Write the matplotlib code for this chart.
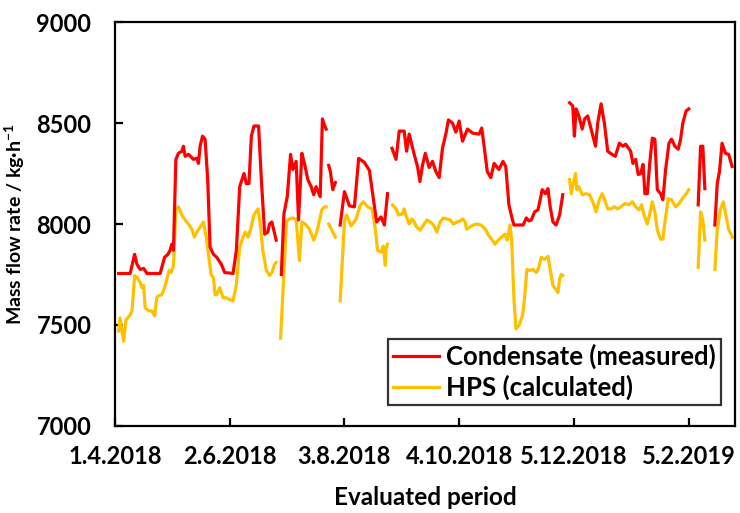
import numpy as np
import matplotlib
matplotlib.use("Agg")
import matplotlib.pyplot as plt
import matplotlib.dates as mdates
from datetime import datetime

# ---------------- data (days since 1.4.2018, kg/h); NaN marks a gap ----------------
start_date = "1.4.2018"
end_days = 335
tick_labels = ["1.4.2018", "2.6.2018", "3.8.2018", "4.10.2018", "5.12.2018", "5.2.2019"]
y_ticks = [7000, 7500, 8000, 8500, 9000]

cond_days = [2, 8.2, 10.6, 11.9, 13.6, 15.5, 17.3, 24.4, 26.8, 28.6, 29.8, 30.7, 31.6, 32.9, 34.3,
             36.1, 37.0, 37.9, 39.7, 42.4, 44.2, 45.1, 46.0, 47.3, 48.7, 50.1, 51.4, 53.2, 55.0,
             57.5, 59.3, 63.8, 65.6, 67.4, 69.7, 71.0, 72.4, 73.7, 75.1, 77.6, 79.1, 80.9, 82.6,
             83.5, 84.8, 85.8, 87.1,
             88.5,
             89.9, 91.3, 93.1, 94.9, 96.1, 97.9, 99.2, 101.0, 102.4, 104.2, 106.0, 107.4, 108.7,
             110.9, 112.1, 113.4, 114.1,
             114.8,
             115.5, 116.4, 117.7, 119.1,
             120.4,
             121.7, 124.0, 126.7, 129.4, 131.7, 134.8, 137.5, 139.2, 141.4, 143.8, 145.6, 147.3,
             148.5,
             149.7, 151.9, 153.6, 156.3, 157.6, 159.0, 161.7, 163.5, 164.8, 166.2, 167.7, 169.8,
             171.6, 173.4, 175.2, 177.0, 178.8, 180.2, 182.4, 184.2, 186.0, 187.8, 190.5, 193.2,
             196.8, 198.2, 199.5, 201.2, 203.1, 204.9, 207.5, 209.7, 211.2, 212.9, 214.7, 215.6,
             220.6, 222.3, 223.7, 225.0, 226.8, 228.6, 229.8, 230.9, 232.7, 234.0, 235.2, 236.7,
             238.4, 240.3, 242.0,
             244.0,
             245.7, 247.4, 248.3, 249.2, 250.7, 252.5, 253.8, 255.5, 257.3, 259.7, 260.9, 262.7,
             264.5, 266.3, 268.6, 270.4, 272.6, 274.4, 276.0, 278.7, 279.9, 281.4, 282.8, 284.1,
             285.4, 286.4, 287.7, 289.0, 290.4, 291.8, 293.1, 294.9, 296.1, 297.6, 299.4, 300.8,
             302.6, 304.4, 305.7, 306.9, 308.7, 310.1,
             312.5,
             315.2, 316.5, 317.7, 318.8,
             321.5,
             324.2, 325.5, 326.7, 328.1, 329.9, 331.7, 333.5]
cond_vals = [7755, 7755, 7850, 7800, 7775, 7780, 7755, 7755, 7835, 7850, 7870, 7900, 7870, 8320, 8350,
             8360, 8385, 8335, 8345, 8320, 8325, 8300, 8385, 8435, 8420, 8220, 7885, 7850, 7835,
             7800, 7760, 7755, 7870, 8185, 8250, 8200, 8200, 8435, 8485, 8485, 8220, 7950, 7960,
             8000, 8010, 7970, 7920,
             np.nan,
             7750, 8050, 8135, 8345, 8270, 8310, 8020, 8350, 8300, 8220, 8185, 8145, 8185,
             8135, 8520, 8485, 8470,
             np.nan,
             8290, 8260, 8170, 8205,
             np.nan,
             7995, 8160, 8090, 8085, 8325, 8305, 8265, 8155, 8010, 8035, 7995, 8150,
             np.nan,
             8375, 8320, 8460, 8460, 8360, 8445, 8345, 8285, 8210, 8290, 8350, 8280,
             8310, 8260, 8230, 8375, 8445, 8515, 8500, 8455, 8510, 8410, 8470, 8450,
             8445, 8475, 8385, 8260, 8230, 8300, 8270, 8310, 8285, 8095, 8025, 7995,
             7995, 8030, 8015, 8020, 8060, 8070, 8120, 8170, 8150, 8175, 8085, 8010,
             7995, 8045, 8145,
             np.nan,
             8600, 8585, 8435, 8570, 8535, 8470, 8520, 8535, 8470, 8385, 8500, 8595,
             8500, 8360, 8345, 8335, 8400, 8385, 8395, 8360, 8300, 8320, 8245, 8250,
             8295, 8150, 8150, 8300, 8425, 8420, 8170, 8150, 8120, 8270, 8400, 8420,
             8385, 8370, 8420, 8500, 8560, 8570,
             np.nan,
             8095, 8385, 8385, 8175,
             np.nan,
             7995, 8200, 8260, 8400, 8350, 8345, 8285]

hps_days = [2.0, 2.7, 4.7, 5.9, 8.2, 9.2, 10.6, 11.9, 13.6, 14.6, 15.5, 16.3, 18.2, 19.9, 21.4,
            22.6, 23.6, 25.3, 26.8, 28.0, 29.3, 30.4, 31.6, 32.9, 34.3, 36.1, 37.9, 40.1, 41.5,
            42.9, 44.2, 46.0, 47.8, 49.6, 51.9, 53.2, 54.1, 55.0, 56.6, 58.4, 60.2, 62.0, 63.8,
            65.6, 67.4, 69.2, 70.4, 71.9, 73.3, 75.1, 77.3, 78.7, 79.9, 81.8, 83.6, 84.8, 86.3, 87.1,
            88.3,
            89.5, 92.7, 93.4, 95.6, 97.9, 99.7, 101.0, 102.8, 105.1, 107.4, 108.7, 110.0, 111.8,
            113.2, 114.1,
            114.8,
            115.5, 117.7, 119.1,
            120.4,
            121.7, 124.0, 125.2, 127.6, 130.3, 132.4, 134.2, 136.5, 138.9, 140.7, 141.9, 143.8,
            145.0, 146.1, 146.6, 147.3,
            148.6,
            150.0, 151.9, 153.3, 155.4, 156.3, 157.2, 159.0, 160.5, 161.7, 163.0, 165.0, 166.7,
            168.6, 170.4, 172.1, 173.9, 175.7, 177.5, 179.4, 181.1, 182.9, 184.7, 186.5, 188.0,
            189.2, 190.1, 191.9, 193.7, 195.5, 197.7, 199.1, 200.5, 201.8, 203.6, 205.4, 207.2,
            209.0, 210.8, 212.0, 213.5, 214.4, 215.6, 216.7, 218.5, 220.3, 221.4, 222.6, 224.1,
            225.9, 227.7, 229.1, 230.4, 232.2, 234.0, 235.2, 236.7, 238.4, 239.4, 240.3, 241.1,
            242.0,
            244.0,
            245.7, 246.6, 247.9, 248.9, 249.6, 250.7, 252.5, 254.6, 256.5, 258.2, 260.0, 261.8,
            263.3, 264.5, 266.3, 268.1, 269.9, 271.7, 273.5, 275.3, 276.0, 277.8, 279.6, 281.4,
            283.2, 284.6, 285.9, 287.7, 289.0, 290.4, 291.8, 293.1, 294.9, 296.1, 297.6, 299.0,
            300.8, 303.0, 304.8, 306.6, 308.7, 310.1,
            312.5,
            315.2, 316.5, 317.7, 318.8,
            321.5,
            324.2, 325.5, 327.3, 328.8, 330.0, 331.8, 333.7]
hps_vals = [7470, 7535, 7420, 7525, 7550, 7570, 7745, 7735, 7710, 7685, 7695, 7585, 7570, 7570, 7545,
            7635, 7645, 7650, 7685, 7725, 7770, 7760, 7795, 8070, 8085, 8045, 8020, 7995, 7975,
            7935, 7960, 7985, 8010, 7920, 7750, 7735, 7650, 7650, 7685, 7635, 7635, 7625, 7620,
            7700, 7885, 7935, 7960, 7935, 7975, 8045, 8075, 7985, 7870, 7770, 7745, 7760, 7800, 7810,
            np.nan,
            7435, 8010, 8020, 8030, 8025, 7820, 8010, 8000, 7975, 7920, 7950, 7995, 8070,
            8085, 8085,
            np.nan,
            8000, 7960, 7935,
            np.nan,
            7620, 8010, 8045, 7990, 8025, 8090, 8110, 8085, 8075, 7975, 7870, 7860,
            7890, 7795, 7880, 7900,
            np.nan,
            8095, 8075, 8045, 8050, 8075, 8045, 8000, 8025, 8010, 7985, 7970, 7995,
            8020, 8010, 7995, 7960, 8010, 8030, 8025, 8020, 8000, 8010, 8015, 8025,
            8010, 7975, 7985, 7995, 8000, 7995, 7985, 7970, 7945, 7925, 7900, 7920,
            7935, 7950, 7920, 7995, 7920, 7635, 7480, 7500, 7550, 7635, 7775, 7770,
            7775, 7760, 7785, 7835, 7825, 7840, 7775, 7695, 7675, 7660, 7725, 7750,
            7745,
            np.nan,
            8220, 8150, 8210, 8250, 8170, 8185, 8145, 8150, 8145, 8110, 8060, 8120,
            8150, 8125, 8075, 8075, 8085, 8075, 8085, 8100, 8100, 8095, 8110, 8085,
            8070, 8095, 8045, 8000, 8050, 8110, 8060, 7970, 7925, 7925, 8035, 8125,
            8120, 8085, 8100, 8125, 8150, 8170,
            np.nan,
            7785, 8060, 8020, 7920,
            np.nan,
            7775, 7970, 8075, 8110, 8050, 7970, 7935]

# ---------------- plotting ----------------
plt.rcParams['font.family'] = ['Lato', 'DejaVu Sans']
plt.rcParams['font.weight'] = 'bold'
plt.rcParams['mathtext.fontset'] = 'custom'
plt.rcParams['mathtext.bf'] = 'Lato:bold'
plt.rcParams['mathtext.rm'] = 'Lato:bold'

FS_TICK = 17
FS_LEG = 18.5
FS_XLAB = 17.5
FS_YLAB = 14

fig = plt.figure(figsize=(7.40, 5.13), dpi=100)
ax = fig.add_axes([0.1554, 0.1696, 0.8376, 0.7875])

t0 = mdates.date2num(datetime.strptime(start_date, "%d.%m.%Y"))
cx = t0 + np.asarray(cond_days, dtype=float)
hx = t0 + np.asarray(hps_days, dtype=float)

ax.plot(cx, cond_vals, color="#FF0000", lw=2.3, label="Condensate (measured)", zorder=3)
ax.plot(hx, hps_vals, color="#FFC000", lw=2.3, label="HPS (calculated)", zorder=2)

ax.set_xlim(t0, t0 + end_days)
ax.set_ylim(7000, 9000)
ax.set_yticks(y_ticks)
ax.set_yticklabels([str(v) for v in y_ticks])
tick_pos = [mdates.date2num(datetime.strptime(s, "%d.%m.%Y")) for s in tick_labels]
ax.set_xticks(tick_pos)
ax.set_xticklabels(tick_labels)

for s in ax.spines.values():
    s.set_linewidth(1.6)
    s.set_color("black")
ax.tick_params(axis='both', direction='in', length=5.5, width=1.6, labelsize=FS_TICK)
ax.tick_params(axis='y', pad=17)
ax.tick_params(axis='x', pad=14)

ax.set_xlabel("Evaluated period", fontsize=FS_XLAB, fontweight='bold', labelpad=13)
ax.set_ylabel("Mass flow rate / kg·h$^{\\mathbf{-1}}$", fontsize=FS_YLAB, fontweight='bold', labelpad=7)

leg = ax.legend(loc='upper left', bbox_to_anchor=(0.4403, 0.2153), borderaxespad=0,
                fontsize=FS_LEG, frameon=True, fancybox=False, edgecolor='black',
                handlelength=1.8, handletextpad=0.25, borderpad=0.2, labelspacing=0.2)
leg.get_frame().set_linewidth(1.6)
for t in leg.get_texts():
    t.set_fontweight('bold')

fig.savefig("out.png", dpi=100)
